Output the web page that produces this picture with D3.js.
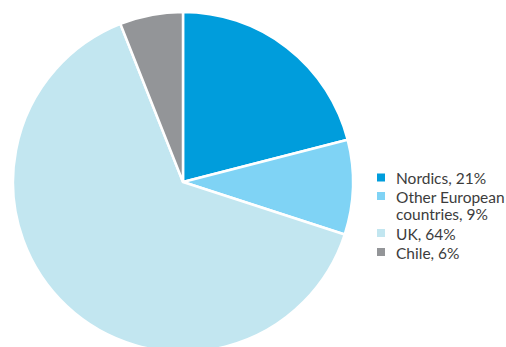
<!DOCTYPE html>
<html>
<head>
<meta charset="utf-8">
<script src="https://cdn.jsdelivr.net/npm/d3@7"></script>
<style>
  html, body { margin: 0; padding: 0; background: #fff; }
  svg { display: block; }
</style>
</head>
<body>
<svg id="chart" width="506" height="347"></svg>
<script>
// Revenue split by region
const regions = ["Nordics", "Other European countries", "UK", "Chile"];
const shares = [21, 9, 64, 6];
const legendLines = [["Nordics, 21%"], ["Other European", "countries, 9%"], ["UK, 64%"], ["Chile, 6%"]];
const colors = ["#009ddc", "#7fd3f5", "#c2e6f0", "#939598"];

const svg = d3.select("#chart");
const cx = 183, cy = 182, r = 170;

const data = regions.map((name, i) => ({ name, value: shares[i], color: colors[i] }));

const pie = d3.pie().value(d => d.value).sort(null);
const arc = d3.arc().innerRadius(0).outerRadius(r);

svg.append("g")
  .attr("transform", `translate(${cx},${cy})`)
  .selectAll("path")
  .data(pie(data))
  .join("path")
  .attr("d", arc)
  .attr("fill", d => d.data.color)
  .attr("stroke", "#fff")
  .attr("stroke-width", 2.5)
  .attr("stroke-linejoin", "round");

// Legend: swatch plus one or two lines of text per region
const legend = svg.append("g")
  .attr("font-family", "Lato, sans-serif")
  .attr("font-size", 15.5)
  .attr("fill", "#3c3c3c");
const rowY = [184, 202.5, 239.5, 258.5];
const lineGap = 17.5;
data.forEach((d, i) => {
  legend.append("rect")
    .attr("x", 377).attr("y", rowY[i] - 10.5)
    .attr("width", 8).attr("height", 8)
    .attr("fill", d.color);
  legendLines[i].forEach((line, j) => {
    legend.append("text")
      .attr("x", 396)
      .attr("y", rowY[i] + j * lineGap)
      .text(line);
  });
});
</script>
</body>
</html>
